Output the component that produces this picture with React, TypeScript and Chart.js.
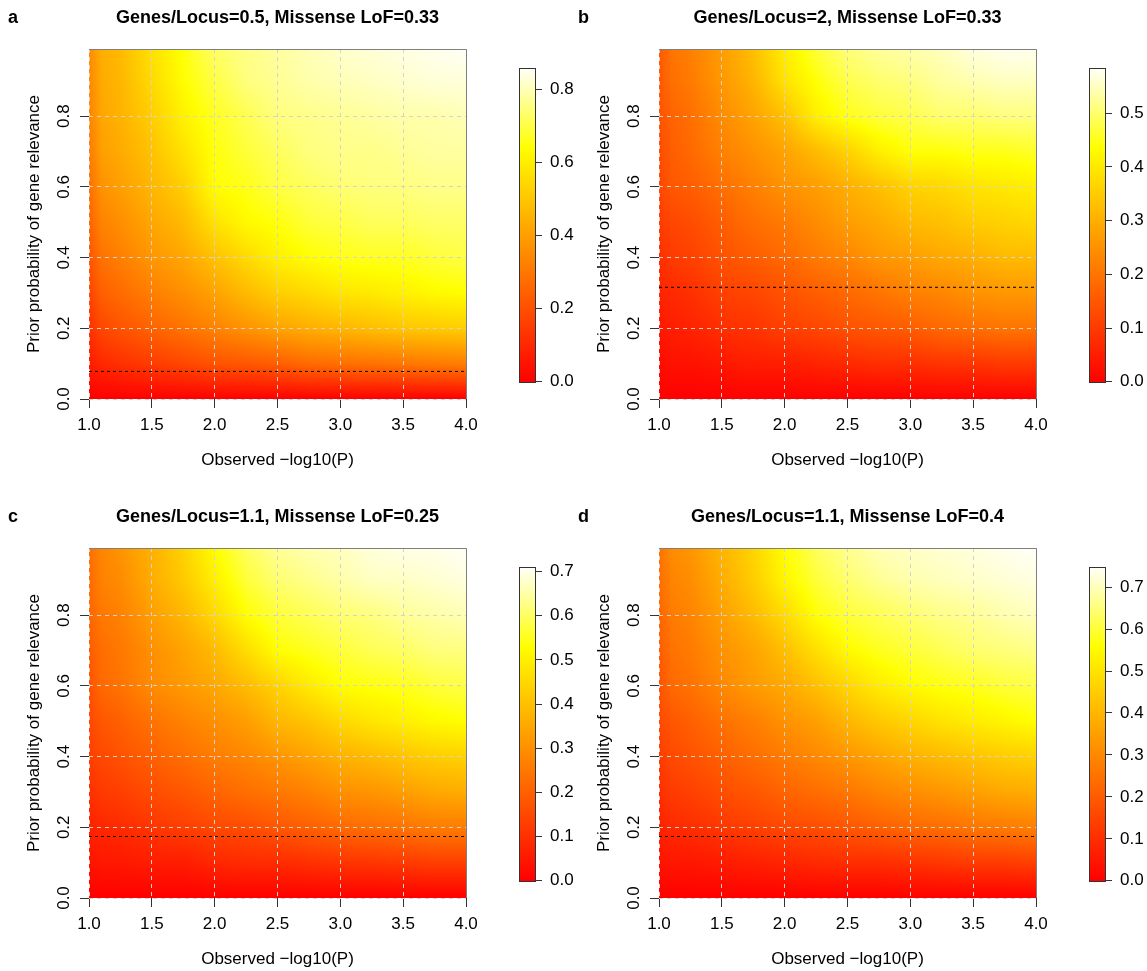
import React, { useEffect, useRef } from "react";
import { Chart, registerables } from "chart.js";

Chart.register(...registerables);

// ---------------- data ----------------
const observedLog10P = [1.0, 1.1, 1.25, 1.5, 1.75, 2.0, 2.25, 2.5, 2.75, 3.0, 3.25, 3.5, 3.75, 4.0];
const priorProbability = [0.0, 0.1, 0.2, 0.3, 0.4, 0.5, 0.6, 0.7, 0.8, 0.9, 1.0];

const xTickValues = [1.0, 1.5, 2.0, 2.5, 3.0, 3.5, 4.0];
const yTickValues = [0.0, 0.2, 0.4, 0.6, 0.8];

const panelLetters = ["a", "b", "c", "d"];
const panelTitles = [
  "Genes/Locus=0.5, Missense LoF=0.33",
  "Genes/Locus=2, Missense LoF=0.33",
  "Genes/Locus=1.1, Missense LoF=0.25",
  "Genes/Locus=1.1, Missense LoF=0.4",
];
const thresholdPrior = [0.078, 0.316, 0.174, 0.174];
const colorbarMax = [0.859, 0.584, 0.71, 0.748];
const colorbarTicksA = [0.0, 0.2, 0.4, 0.6, 0.8];
const colorbarTicksB = [0.0, 0.1, 0.2, 0.3, 0.4, 0.5];
const colorbarTicksC = [0.0, 0.1, 0.2, 0.3, 0.4, 0.5, 0.6, 0.7];
const colorbarTicksD = [0.0, 0.1, 0.2, 0.3, 0.4, 0.5, 0.6, 0.7];

// posterior values: one row per prior (bottom -> top), one column per observed -log10(P)
const posteriorA = [
  [0, 0, 0, 0, 0, 0, 0, 0, 0, 0, 0, 0, 0, 0],
  [0.07, 0.1, 0.12, 0.15, 0.18, 0.21, 0.22, 0.24, 0.27, 0.28, 0.29, 0.3, 0.31, 0.32],
  [0.12, 0.18, 0.21, 0.25, 0.29, 0.33, 0.37, 0.41, 0.44, 0.46, 0.48, 0.5, 0.51, 0.52],
  [0.17, 0.24, 0.27, 0.32, 0.36, 0.41, 0.47, 0.52, 0.55, 0.58, 0.59, 0.61, 0.63, 0.64],
  [0.21, 0.29, 0.32, 0.38, 0.42, 0.49, 0.55, 0.61, 0.64, 0.66, 0.67, 0.67, 0.69, 0.7],
  [0.25, 0.33, 0.36, 0.42, 0.47, 0.57, 0.63, 0.65, 0.69, 0.7, 0.72, 0.72, 0.73, 0.73],
  [0.28, 0.37, 0.4, 0.46, 0.52, 0.64, 0.66, 0.7, 0.72, 0.74, 0.75, 0.75, 0.76, 0.76],
  [0.31, 0.4, 0.43, 0.49, 0.57, 0.65, 0.69, 0.72, 0.75, 0.76, 0.76, 0.77, 0.78, 0.78],
  [0.33, 0.42, 0.45, 0.52, 0.61, 0.67, 0.71, 0.75, 0.76, 0.77, 0.78, 0.79, 0.79, 0.8],
  [0.34, 0.43, 0.46, 0.55, 0.64, 0.7, 0.75, 0.77, 0.79, 0.8, 0.81, 0.82, 0.83, 0.83],
  [0.35, 0.44, 0.47, 0.57, 0.65, 0.73, 0.76, 0.78, 0.8, 0.82, 0.83, 0.84, 0.85, 0.86],
];
const posteriorB = [
  [0, 0, 0, 0, 0, 0, 0, 0, 0, 0, 0, 0, 0, 0],
  [0.02, 0.03, 0.03, 0.04, 0.05, 0.05, 0.06, 0.07, 0.08, 0.08, 0.09, 0.09, 0.1, 0.1],
  [0.04, 0.05, 0.06, 0.08, 0.09, 0.11, 0.12, 0.14, 0.15, 0.16, 0.18, 0.19, 0.2, 0.2],
  [0.06, 0.07, 0.08, 0.11, 0.12, 0.14, 0.16, 0.18, 0.2, 0.22, 0.23, 0.25, 0.26, 0.26],
  [0.08, 0.1, 0.11, 0.14, 0.16, 0.18, 0.21, 0.23, 0.26, 0.27, 0.29, 0.3, 0.32, 0.32],
  [0.1, 0.12, 0.13, 0.16, 0.19, 0.21, 0.24, 0.27, 0.29, 0.32, 0.33, 0.35, 0.36, 0.37],
  [0.12, 0.15, 0.16, 0.19, 0.22, 0.25, 0.27, 0.3, 0.33, 0.36, 0.37, 0.39, 0.4, 0.41],
  [0.13, 0.16, 0.18, 0.22, 0.25, 0.28, 0.32, 0.36, 0.41, 0.44, 0.44, 0.45, 0.45, 0.46],
  [0.14, 0.17, 0.19, 0.24, 0.28, 0.33, 0.41, 0.45, 0.47, 0.48, 0.5, 0.5, 0.51, 0.51],
  [0.15, 0.19, 0.21, 0.26, 0.31, 0.39, 0.44, 0.48, 0.5, 0.51, 0.53, 0.54, 0.55, 0.55],
  [0.15, 0.2, 0.22, 0.27, 0.33, 0.41, 0.47, 0.51, 0.53, 0.54, 0.55, 0.57, 0.58, 0.58],
];
const posteriorC = [
  [0, 0, 0, 0, 0, 0, 0, 0, 0, 0, 0, 0, 0, 0],
  [0.04, 0.05, 0.05, 0.06, 0.06, 0.08, 0.09, 0.09, 0.1, 0.11, 0.11, 0.12, 0.13, 0.13],
  [0.07, 0.08, 0.09, 0.11, 0.13, 0.15, 0.16, 0.18, 0.2, 0.22, 0.23, 0.24, 0.26, 0.26],
  [0.1, 0.12, 0.13, 0.16, 0.18, 0.21, 0.23, 0.25, 0.27, 0.3, 0.31, 0.33, 0.35, 0.36],
  [0.13, 0.15, 0.17, 0.2, 0.23, 0.26, 0.28, 0.31, 0.34, 0.37, 0.39, 0.41, 0.43, 0.44],
  [0.15, 0.18, 0.2, 0.24, 0.27, 0.3, 0.33, 0.38, 0.41, 0.45, 0.48, 0.5, 0.52, 0.53],
  [0.17, 0.22, 0.24, 0.29, 0.32, 0.35, 0.39, 0.44, 0.49, 0.53, 0.54, 0.55, 0.57, 0.58],
  [0.19, 0.23, 0.25, 0.3, 0.34, 0.39, 0.46, 0.53, 0.55, 0.57, 0.59, 0.6, 0.62, 0.62],
  [0.21, 0.25, 0.27, 0.33, 0.38, 0.45, 0.53, 0.57, 0.59, 0.61, 0.62, 0.64, 0.65, 0.66],
  [0.22, 0.27, 0.29, 0.36, 0.42, 0.5, 0.57, 0.61, 0.63, 0.65, 0.67, 0.67, 0.68, 0.69],
  [0.23, 0.28, 0.31, 0.37, 0.44, 0.53, 0.6, 0.64, 0.66, 0.67, 0.69, 0.7, 0.7, 0.71],
];
const posteriorD = [
  [0, 0, 0, 0, 0, 0, 0, 0, 0, 0, 0, 0, 0, 0],
  [0.04, 0.05, 0.05, 0.06, 0.07, 0.08, 0.09, 0.1, 0.1, 0.11, 0.12, 0.13, 0.13, 0.14],
  [0.07, 0.09, 0.1, 0.12, 0.14, 0.16, 0.17, 0.19, 0.21, 0.23, 0.24, 0.26, 0.27, 0.28],
  [0.1, 0.13, 0.14, 0.17, 0.19, 0.22, 0.24, 0.26, 0.29, 0.31, 0.33, 0.35, 0.37, 0.38],
  [0.13, 0.16, 0.18, 0.21, 0.24, 0.27, 0.3, 0.33, 0.36, 0.39, 0.41, 0.43, 0.45, 0.46],
  [0.16, 0.19, 0.21, 0.25, 0.28, 0.32, 0.35, 0.4, 0.44, 0.47, 0.5, 0.52, 0.54, 0.56],
  [0.18, 0.23, 0.25, 0.3, 0.34, 0.37, 0.42, 0.47, 0.52, 0.55, 0.57, 0.58, 0.6, 0.61],
  [0.2, 0.25, 0.27, 0.32, 0.36, 0.42, 0.49, 0.55, 0.58, 0.6, 0.62, 0.64, 0.65, 0.66],
  [0.22, 0.27, 0.29, 0.35, 0.41, 0.48, 0.56, 0.6, 0.62, 0.64, 0.66, 0.67, 0.69, 0.7],
  [0.24, 0.29, 0.31, 0.38, 0.45, 0.54, 0.6, 0.64, 0.67, 0.69, 0.7, 0.71, 0.72, 0.73],
  [0.25, 0.31, 0.33, 0.4, 0.47, 0.56, 0.63, 0.67, 0.7, 0.71, 0.72, 0.73, 0.74, 0.75],
];

const posteriorTables = [posteriorA, posteriorB, posteriorC, posteriorD];
const colorbarTicks = [colorbarTicksA, colorbarTicksB, colorbarTicksC, colorbarTicksD];

// ---------------- style / layout ----------------
const FONT = "'Liberation Sans', Arial, Helvetica, sans-serif";
const PANEL_ORIGINS = [
  [0, 0],
  [570, 0],
  [0, 499],
  [570, 499],
];
const HEAT_W = 574;
const HEAT_H = 472;
const AREA = { left: 89, top: 49, right: 466, bottom: 399 };
const CB_CANVAS = { left: 505, top: 40, width: 69, height: 360 };
const CB_AREA = { left: 519, top: 68, right: 535, bottom: 382 };
const TICK_FONT = 17;
const AXIS_TITLE_FONT = 17;

Chart.defaults.font.family = FONT;

function heatColor(f: number): [number, number, number] {
  const c = Math.max(0, Math.min(1, f));
  if (c <= 0.75) return [255, Math.round((255 * c) / 0.75), 0];
  const t = (c - 0.75) / 0.25;
  return [255, 255, Math.round(255 * (0.02 + 0.96 * t))];
}

function bracket(arr: number[], v: number) {
  if (v <= arr[0]) return { i: 0, t: 0 };
  const n = arr.length;
  if (v >= arr[n - 1]) return { i: n - 2, t: 1 };
  let i = 0;
  while (i < n - 2 && v > arr[i + 1]) i++;
  return { i, t: (v - arr[i]) / (arr[i + 1] - arr[i]) };
}

function sampleSurface(table: number[][], xv: number, yv: number) {
  const bx = bracket(observedLog10P, xv);
  const by = bracket(priorProbability, yv);
  const r0 = table[by.i];
  const r1 = table[by.i + 1];
  const a = r0[bx.i] * (1 - bx.t) + r0[bx.i + 1] * bx.t;
  const b = r1[bx.i] * (1 - bx.t) + r1[bx.i + 1] * bx.t;
  return a * (1 - by.t) + b * by.t;
}

function HeatmapPanel({ idx }: { idx: number }) {
  const ref = useRef<HTMLCanvasElement | null>(null);
  useEffect(() => {
    const table = posteriorTables[idx];
    const zmax = colorbarMax[idx];
    const thr = thresholdPrior[idx];

    const heatPlugin = {
      id: "heatSurface",
      beforeDraw(chart: any) {
        const { ctx, chartArea: a, scales } = chart;
        const xs = scales.x;
        const ys = scales.y;
        const w = Math.round(a.right - a.left);
        const h = Math.round(a.bottom - a.top);
        const off = document.createElement("canvas");
        off.width = w;
        off.height = h;
        const octx = off.getContext("2d")!;
        const img = octx.createImageData(w, h);
        for (let py = 0; py < h; py++) {
          const yv = ys.getValueForPixel(a.top + py + 0.5);
          for (let px = 0; px < w; px++) {
            const xv = xs.getValueForPixel(a.left + px + 0.5);
            const v = sampleSurface(table, xv, yv);
            const [r, g, b] = heatColor(v / zmax);
            const k = (py * w + px) * 4;
            img.data[k] = r;
            img.data[k + 1] = g;
            img.data[k + 2] = b;
            img.data[k + 3] = 255;
          }
        }
        octx.putImageData(img, 0, 0);
        ctx.drawImage(off, a.left, a.top);
      },
    };

    const framePlugin = {
      id: "plotFrame",
      afterDraw(chart: any) {
        const { ctx, chartArea: a } = chart;
        ctx.save();
        ctx.strokeStyle = "#7f7f7f";
        ctx.lineWidth = 1;
        ctx.setLineDash([]);
        ctx.beginPath();
        ctx.moveTo(a.left, Math.round(a.top) + 0.5);
        ctx.lineTo(Math.round(a.right) + 0.5, Math.round(a.top) + 0.5);
        ctx.lineTo(Math.round(a.right) + 0.5, a.bottom);
        ctx.stroke();
        ctx.restore();
      },
    };

    const chart = new Chart(ref.current!, {
      type: "scatter",
      data: {
        datasets: [
          {
            data: [
              { x: observedLog10P[0], y: thr },
              { x: observedLog10P[observedLog10P.length - 1], y: thr },
            ],
            showLine: true,
            borderColor: "#000000",
            borderWidth: 1,
            borderDash: [3, 3],
            pointRadius: 0,
            fill: false,
          } as any,
        ],
      },
      options: {
        animation: false,
        responsive: false,
        maintainAspectRatio: false,
        events: [],
        layout: { padding: { left: 0, top: 0, right: HEAT_W - AREA.right, bottom: 0 } },
        plugins: {
          legend: { display: false },
          tooltip: { enabled: false },
          title: {
            display: true,
            text: panelTitles[idx],
            fullSize: false,
            color: "#000",
            font: { family: FONT, size: 18, weight: "bold", lineHeight: 1.2 },
            padding: { top: 7, bottom: AREA.top - 7 - 21.6 },
          },
        },
        scales: {
          x: {
            type: "linear",
            min: 1,
            max: 4,
            afterBuildTicks: (s: any) => {
              s.ticks = xTickValues.map((v) => ({ value: v }));
            },
            afterFit: (s: any) => {
              s.height = HEAT_H - AREA.bottom;
            },
            ticks: {
              autoSkip: false,
              minRotation: 0,
              maxRotation: 0,
              padding: 7,
              color: "#000",
              font: { family: FONT, size: TICK_FONT },
              callback: (v: any) => Number(v).toFixed(1),
            },
            grid: {
              color: "#d3d3d3",
              lineWidth: 1,
              drawTicks: true,
              tickLength: 9,
              tickColor: "#333",
              tickWidth: 1,
            },
            border: { display: false, dash: [4, 4] },
            title: {
              display: true,
              text: "Observed \u2212log10(P)",
              color: "#000",
              font: { family: FONT, size: AXIS_TITLE_FONT, lineHeight: 1.2 },
              padding: { top: 0, bottom: 1 },
            },
          },
          y: {
            type: "linear",
            min: 0,
            max: 0.99,
            afterBuildTicks: (s: any) => {
              s.ticks = yTickValues.map((v) => ({ value: v }));
            },
            afterFit: (s: any) => {
              s.width = AREA.left;
            },
            ticks: {
              autoSkip: false,
              minRotation: 90,
              maxRotation: 90,
              crossAlign: "center",
              padding: 3.5,
              color: "#000",
              font: { family: FONT, size: TICK_FONT },
              callback: (v: any) => Number(v).toFixed(1),
            },
            grid: {
              color: "#d3d3d3",
              lineWidth: 1,
              drawTicks: true,
              tickLength: 9,
              tickColor: "#333",
              tickWidth: 1,
            },
            border: { display: false, dash: [4, 4] },
            title: {
              display: true,
              text: "Prior probability of gene relevance",
              color: "#000",
              font: { family: FONT, size: AXIS_TITLE_FONT, lineHeight: 1.2 },
              padding: { top: 24, bottom: 0 },
            },
          },
        },
      } as any,
      plugins: [heatPlugin, framePlugin],
    });
    return () => chart.destroy();
  }, [idx]);

  const [ox, oy] = PANEL_ORIGINS[idx];
  return (
    <canvas
      ref={ref}
      width={HEAT_W}
      height={HEAT_H}
      style={{ position: "absolute", left: ox, top: oy, width: HEAT_W, height: HEAT_H }}
    />
  );
}

function ColorbarPanel({ idx }: { idx: number }) {
  const ref = useRef<HTMLCanvasElement | null>(null);
  useEffect(() => {
    const zmax = colorbarMax[idx];
    const ticks = colorbarTicks[idx];

    const barPlugin = {
      id: "colorRamp",
      beforeDraw(chart: any) {
        const { ctx, chartArea: a, scales } = chart;
        const ys = scales.y;
        for (let py = Math.round(a.top); py < Math.round(a.bottom); py++) {
          const v = ys.getValueForPixel(py + 0.5);
          const [r, g, b] = heatColor(v / zmax);
          ctx.fillStyle = `rgb(${r},${g},${b})`;
          ctx.fillRect(a.left, py, a.right - a.left, 1);
        }
      },
      afterDraw(chart: any) {
        const { ctx, chartArea: a } = chart;
        ctx.save();
        ctx.strokeStyle = "#333";
        ctx.lineWidth = 1;
        ctx.strokeRect(
          Math.round(a.left) + 0.5,
          Math.round(a.top) + 0.5,
          Math.round(a.right - a.left),
          Math.round(a.bottom - a.top)
        );
        ctx.restore();
      },
    };

    const chart = new Chart(ref.current!, {
      type: "scatter",
      data: { datasets: [] },
      options: {
        animation: false,
        responsive: false,
        maintainAspectRatio: false,
        events: [],
        layout: {
          padding: {
            left: CB_AREA.left - CB_CANVAS.left,
            top: CB_AREA.top - CB_CANVAS.top,
            right: 0,
            bottom: CB_CANVAS.top + CB_CANVAS.height - CB_AREA.bottom,
          },
        },
        plugins: { legend: { display: false }, tooltip: { enabled: false }, title: { display: false } },
        scales: {
          x: { type: "linear", display: false, min: 0, max: 1 },
          y: {
            type: "linear",
            position: "right",
            min: 0,
            max: zmax,
            afterBuildTicks: (s: any) => {
              s.ticks = ticks.map((v) => ({ value: v }));
            },
            afterFit: (s: any) => {
              s.width = CB_CANVAS.left + CB_CANVAS.width - CB_AREA.right;
            },
            ticks: {
              autoSkip: false,
              padding: 8,
              color: "#000",
              font: { family: FONT, size: TICK_FONT },
              callback: (v: any) => Number(v).toFixed(1),
            },
            grid: {
              drawOnChartArea: false,
              drawTicks: true,
              tickLength: 7,
              tickColor: "#333",
              tickWidth: 1,
              color: "#333",
            },
            border: { display: false },
          },
        },
      } as any,
      plugins: [barPlugin],
    });
    return () => chart.destroy();
  }, [idx]);

  const [ox, oy] = PANEL_ORIGINS[idx];
  return (
    <canvas
      ref={ref}
      width={CB_CANVAS.width}
      height={CB_CANVAS.height}
      style={{
        position: "absolute",
        left: ox + CB_CANVAS.left,
        top: oy + CB_CANVAS.top,
        width: CB_CANVAS.width,
        height: CB_CANVAS.height,
      }}
    />
  );
}

export default function App() {
  useEffect(() => {
    document.body.style.margin = "0";
    document.body.style.background = "#ffffff";
  }, []);
  return (
    <div style={{ position: "relative", width: 1147, height: 971, background: "#fff", overflow: "hidden" }}>
      {[0, 1, 2, 3].map((i) => (
        <React.Fragment key={i}>
          <HeatmapPanel idx={i} />
          <ColorbarPanel idx={i} />
          <div
            style={{
              position: "absolute",
              left: PANEL_ORIGINS[i][0] + 8,
              top: PANEL_ORIGINS[i][1] + 7,
              fontFamily: FONT,
              fontWeight: "bold",
              fontSize: 18,
              lineHeight: "21.6px",
              color: "#000",
            }}
          >
            {panelLetters[i]}
          </div>
        </React.Fragment>
      ))}
    </div>
  );
}
